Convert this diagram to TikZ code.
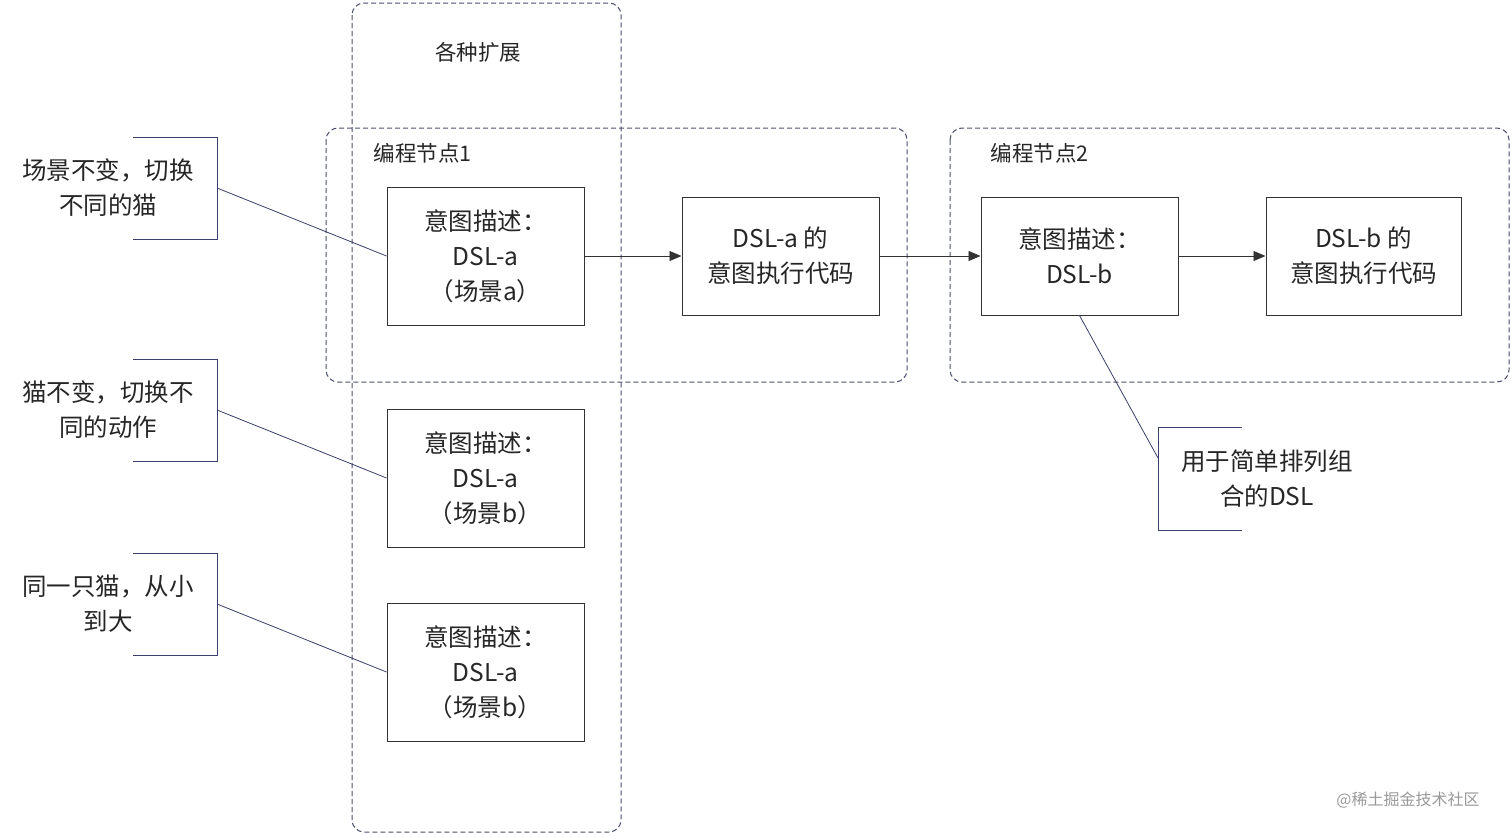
\documentclass[tikz,border=0pt]{standalone}
\usepackage{fontspec}
\setmainfont{Noto Sans CJK SC}
\usetikzlibrary{arrows.meta}
\definecolor{dash}{HTML}{4A4E6A}
\definecolor{ann}{HTML}{3A3F6A}
\begin{document}
\begin{tikzpicture}[x=1pt,y=-1pt,
  box/.style={draw=black!80,line width=1pt},
  grp/.style={draw=dash,dashed,dash pattern=on 5pt off 3pt,rounded corners=12pt,line width=1pt},
  txt/.style={font=\fontsize{24.5}{35}\selectfont,align=center,text=black!85},
  lbl/.style={font=\fontsize{21.5}{28}\selectfont,text=black!85},
  ann/.style={draw=ann,line width=0.8pt},
  arr/.style={draw=black!80,line width=0.8pt,-{Triangle[length=12pt,width=10pt]}}]
\useasboundingbox (0,0) rectangle (1512,835);
\draw[grp] (352,3) rectangle (621,832);
\draw[grp] (326,128) rectangle (907,382);
\draw[grp] (950,128) rectangle (1509,382);
\node[lbl] (ext) at (478,52) {各种扩展};
\node[lbl,anchor=west] (g1) at (370,153) {编程节点1};
\node[lbl,anchor=west] (g2) at (987,153) {编程节点2};
\node[box,txt,minimum width=197pt,minimum height=138pt] (a1) at (485.5,256) {意图描述：\\DSL-a\\（场景a）};
\node[box,txt,minimum width=197pt,minimum height=138pt] (a2) at (485.5,478) {意图描述：\\DSL-a\\（场景b）};
\node[box,txt,minimum width=197pt,minimum height=138pt] (a3) at (485.5,672) {意图描述：\\DSL-a\\（场景b）};
\node[box,txt,minimum width=197pt,minimum height=118pt] (ca) at (780.5,256) {DSL-a 的\\意图执行代码};
\node[box,txt,minimum width=197pt,minimum height=118pt] (b) at (1079.5,256) {意图描述：\\DSL-b};
\node[box,txt,minimum width=195pt,minimum height=118pt] (cb) at (1363.5,256) {DSL-b 的\\意图执行代码};
\draw[arr] (a1) -- (ca);
\draw[arr] (ca) -- (b);
\draw[arr] (b) -- (cb);
\node[txt] (n1) at (108,188) {场景不变，切换\\不同的猫};
\draw[ann] (133,137) -- (217,137) -- (217,239) -- (133,239);
\coordinate (p1) at (217,188);
\draw[ann] (p1) -- (a1.west);
\node[txt] (n2) at (108,410) {猫不变，切换不\\同的动作};
\draw[ann] (133,359) -- (217,359) -- (217,461) -- (133,461);
\coordinate (p2) at (217,410);
\draw[ann] (p2) -- (a2.west);
\node[txt] (n3) at (108,604) {同一只猫，从小\\到大};
\draw[ann] (133,553) -- (217,553) -- (217,655) -- (133,655);
\coordinate (p3) at (217,604);
\draw[ann] (p3) -- (a3.west);
\node[txt] (n4) at (1267,479) {用于简单排列组\\合的DSL};
\draw[ann] (1242,427) -- (1158,427) -- (1158,530) -- (1242,530);
\coordinate (p4) at (1158,458);
\draw[ann] (p4) -- (b.south);
\node[font=\fontsize{16}{20}\selectfont,text=black!40] (wm) at (1408,800) {@稀土掘金技术社区};
\end{tikzpicture}
\end{document}
